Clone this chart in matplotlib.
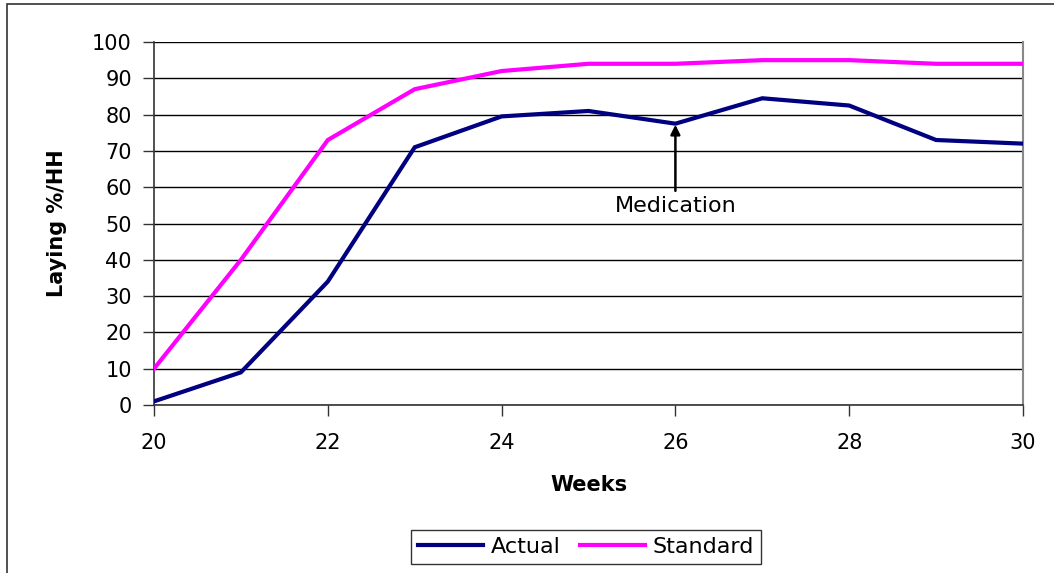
import matplotlib
matplotlib.use("Agg")
import matplotlib.pyplot as plt
from matplotlib.patches import Rectangle

plt.rcParams['font.family'] = ['DejaVu Sans']

weeks = [20, 21, 22, 23, 24, 25, 26, 27, 28, 29, 30]
actual = [1, 9, 34, 71, 79.5, 81, 77.5, 84.5, 82.5, 73, 72]
standard = [10, 40, 73, 87, 92, 94, 94, 95, 95, 94, 94]
x_ticks = [20, 22, 24, 26, 28, 30]
y_ticks = list(range(0, 101, 10))
medication_week = 26

W, H = 1054, 573
fig = plt.figure(figsize=(W / 100, H / 100), dpi=100)
ax = fig.add_axes([154 / W, 1 - 405 / H, (1023 - 154) / W, (405 - 42) / H])

# outer chart frame
fig.patches.append(Rectangle((7 / W, -0.05), 1.1, 1 - 4 / H + 0.05,
                             transform=fig.transFigure, fill=False,
                             edgecolor='#333333', linewidth=1.2, zorder=0))

for yv in y_ticks:
    ax.axhline(yv, color='#000000', linewidth=1.0, zorder=1)

ax.plot(weeks, actual, color='#000080', linewidth=3, label='Actual',
        zorder=3, solid_joinstyle='miter')
ax.plot(weeks, standard, color='#FF00FF', linewidth=3, label='Standard',
        zorder=3, solid_joinstyle='miter')

ax.annotate('', xy=(medication_week, actual[weeks.index(medication_week)] - 0.3),
            xytext=(medication_week, 59),
            arrowprops=dict(arrowstyle='-|>', color='black', lw=1.8,
                            mutation_scale=14, shrinkA=0, shrinkB=0),
            zorder=4)
ax.text(medication_week, 54.8, 'Medication', ha='center', va='center',
        fontsize=16, color='black', zorder=4)

ax.set_xlim(20, 30)
ax.set_ylim(0, 100)
ax.set_xticks(x_ticks)
ax.set_yticks(y_ticks)
ax.tick_params(axis='both', direction='out', length=8, width=1,
               color='#333333', labelsize=15, pad=8)
ax.tick_params(axis='x', pad=12)

for side in ['left', 'bottom']:
    ax.spines[side].set_color('#333333')
    ax.spines[side].set_linewidth(1.2)
ax.spines['top'].set_visible(False)
ax.spines['right'].set_color('#888888')
ax.spines['right'].set_linewidth(1.5)

ax.set_xlabel('Weeks', fontsize=15, fontweight='bold', labelpad=16)
ax.set_ylabel('Laying %/HH', fontsize=15, fontweight='bold', labelpad=18)

leg = fig.legend(loc='center', bbox_to_anchor=(586 / W, 1 - 547 / H),
                 ncol=2, fontsize=16, frameon=True, fancybox=False,
                 edgecolor='black', handlelength=2.9, columnspacing=0.9,
                 handletextpad=0.35, borderpad=0.3)
leg.get_frame().set_linewidth(1.0)

fig.savefig('out.png', dpi=100)
